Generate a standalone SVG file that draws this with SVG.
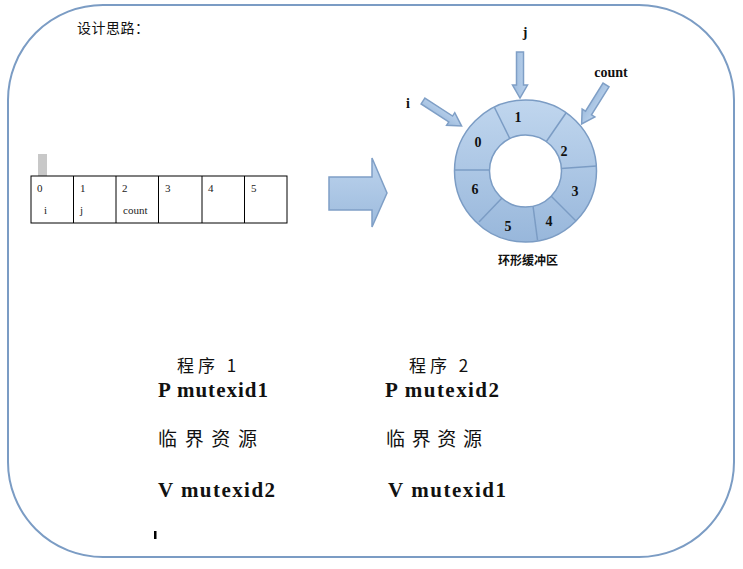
<svg xmlns="http://www.w3.org/2000/svg" width="743" height="569" viewBox="0 0 743 569">
<defs>
<linearGradient id="g" x1="0" y1="0" x2="0" y2="1">
<stop offset="0" stop-color="#c0d6ee"/>
<stop offset="1" stop-color="#98b7db"/>
</linearGradient>
<linearGradient id="ga" x1="0" y1="0" x2="0" y2="1">
<stop offset="0" stop-color="#bcd3ed"/>
<stop offset="1" stop-color="#9dbbdd"/>
</linearGradient>
<path id="sa" d="M0,-3.5 L33,-3.5 L33,-7.5 L46,0 L33,7.5 L33,3.5 L0,3.5 Z"/>
</defs>
<style>
.blk{fill:url(#ga);stroke:#7f9fc6;stroke-width:1.5}
.num{font-family:"Liberation Serif",serif;font-weight:bold;font-size:14px;fill:#111;text-anchor:middle}
.cell{font-family:"Liberation Serif",serif;font-size:11px;fill:#222}
.code{font-family:"Liberation Serif",serif;font-weight:bold;font-size:21px;fill:#111}
.cjk{font-family:"Noto Sans CJK SC",sans-serif;fill:#111}
.div{stroke:#7b9cc4;stroke-width:1.5}
</style>
<rect x="8" y="5" width="726" height="552" rx="95" ry="95" fill="#fff" stroke="#7b9cc4" stroke-width="2"/>
<g id="title"><text class="cjk" x="77" y="33" font-size="14" letter-spacing="0.5">设计思路：</text></g>

<g id="array">
<rect x="38" y="154" width="9" height="22" fill="#c8c8c8"/>
<rect x="31" y="176" width="256" height="47" fill="#fff" stroke="#000" stroke-width="1"/>
<g stroke="#000" stroke-width="1">
<line x1="73.5" y1="176" x2="73.5" y2="223"/>
<line x1="116" y1="176" x2="116" y2="223"/>
<line x1="158.5" y1="176" x2="158.5" y2="223"/>
<line x1="202" y1="176" x2="202" y2="223"/>
<line x1="244.5" y1="176" x2="244.5" y2="223"/>
</g>
<text class="cell" x="37" y="192">0</text>
<text class="cell" x="80" y="192">1</text>
<text class="cell" x="122" y="192">2</text>
<text class="cell" x="165" y="192">3</text>
<text class="cell" x="208" y="192" fill="#a0500f">4</text>
<text class="cell" x="251" y="192">5</text>
<text class="cell" x="44" y="214">i</text>
<text class="cell" x="80" y="214">j</text>
<text class="cell" x="123" y="214" font-size="10">count</text>
</g>

<g id="bigarrow">
<path class="blk" d="M329,177 L372,177 L372,158 L387,193 L372,227 L372,210 L329,210 Z"/>
</g>

<g id="ring">
<path d="M454.5,171 a71,71 0 1,0 142,0 a71,71 0 1,0 -142,0 Z M489.5,171 a36,36 0 1,1 72,0 a36,36 0 1,1 -72,0 Z" fill="url(#g)" fill-rule="evenodd" stroke="#7b9cc4" stroke-width="1.5"/>
<line class="div" x1="454.5" y1="170" x2="489.5" y2="170"/>
<line class="div" x1="494.5" y1="107.5" x2="510" y2="139"/>
<line class="div" x1="566" y1="113" x2="546" y2="142"/>
<line class="div" x1="596.5" y1="166" x2="561" y2="168.5"/>
<line class="div" x1="576" y1="221" x2="551" y2="196"/>
<line class="div" x1="537.5" y1="240" x2="533" y2="206"/>
<line class="div" x1="479" y1="222" x2="502" y2="198"/>
<text class="num" x="478" y="147">0</text>
<text class="num" x="518" y="122">1</text>
<text class="num" x="564" y="156">2</text>
<text class="num" x="575" y="196">3</text>
<text class="num" x="549" y="226">4</text>
<text class="num" x="508" y="231">5</text>
<text class="num" x="475" y="194">6</text>
<text class="cjk" x="528" y="265" font-size="12" font-weight="bold" text-anchor="middle">环形缓冲区</text>
</g>

<g id="pointers">
<use href="#sa" class="blk" transform="translate(423,101) rotate(33)"/>
<use href="#sa" class="blk" transform="translate(520,52) rotate(90)"/>
<use href="#sa" class="blk" transform="translate(606,85) rotate(122)"/>
<text class="num" x="408" y="108">i</text>
<text class="num" x="525" y="37">j</text>
<text class="num" x="611" y="77">count</text>
</g>

<g id="prog1">
<text class="cjk" x="177" y="372" font-size="17" letter-spacing="4">程序 1</text>
<text class="code" x="158" y="397" textLength="110" lengthAdjust="spacing">P mutexid1</text>
<text class="cjk" x="158" y="446" font-size="19" textLength="99" lengthAdjust="spacing">临界资源</text>
<text class="code" x="158" y="497" textLength="117" lengthAdjust="spacing">V mutexid2</text>
<rect x="154" y="531" width="2.5" height="8" fill="#000"/>
</g>
<g id="prog2">
<text class="cjk" x="409" y="372" font-size="17" letter-spacing="4">程序 2</text>
<text class="code" x="385" y="397" textLength="114" lengthAdjust="spacing">P mutexid2</text>
<text class="cjk" x="386" y="446" font-size="19" textLength="96" lengthAdjust="spacing">临界资源</text>
<text class="code" x="388" y="497" textLength="118" lengthAdjust="spacing">V mutexid1</text>
</g>
</svg>
